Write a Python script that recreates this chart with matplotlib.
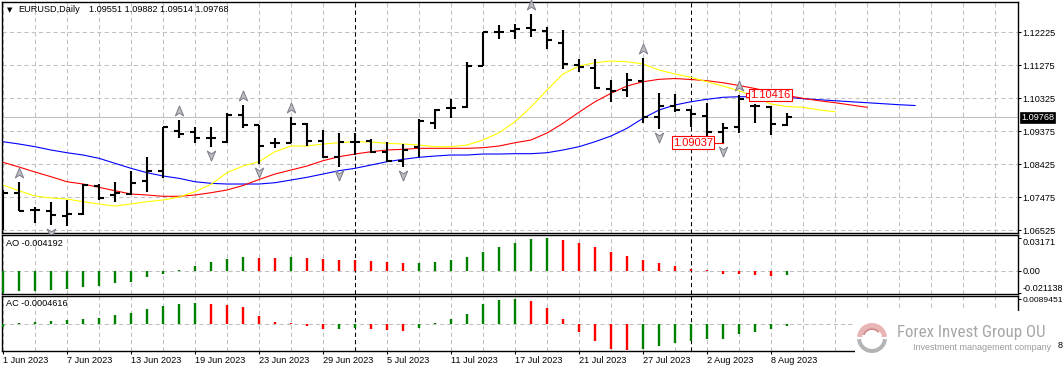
import numpy as np
import matplotlib
matplotlib.use("Agg")
import matplotlib.pyplot as plt
from matplotlib.path import Path
from matplotlib.transforms import offset_copy
from matplotlib.patches import Rectangle, Wedge

plt.rcParams['font.family'] = ['Liberation Sans', 'DejaVu Sans']

# ---------------- data ----------------
symbol = "EURUSD,Daily"
opens = [1.07533, 1.07590, 1.07101, 1.07072, 1.06928, 1.06986, 1.07792, 1.07533, 1.07561, 1.07936,
         1.08224, 1.09375, 1.09346, 1.09174, 1.09058, 1.09836, 1.09548, 1.09030, 1.09030, 1.09577,
         1.09087, 1.08627, 1.09058, 1.09087, 1.08770, 1.08511, 1.08914, 1.09605, 1.10037, 1.10066,
         1.11246, 1.12225, 1.12254, 1.12340, 1.12254, 1.11908, 1.11275, 1.11189, 1.10584, 1.10555,
         1.10814, 1.09778, 1.10095, 1.09980, 1.09807, 1.09346, 1.09490, 1.10095, 1.10066, 1.09551]
highs = [1.07677, 1.07907, 1.07187, 1.07331, 1.07389, 1.07849, 1.07849, 1.07907, 1.08224, 1.08627,
         1.09500, 1.09692, 1.09490, 1.09490, 1.09893, 1.10124, 1.09548, 1.09174, 1.09778, 1.09600,
         1.09404, 1.09317, 1.09317, 1.09145, 1.09058, 1.09001, 1.09720, 1.10008, 1.10296, 1.11361,
         1.12225, 1.12427, 1.12455, 1.12743, 1.12369, 1.12283, 1.11448, 1.11448, 1.10843, 1.11045,
         1.11477, 1.10469, 1.10440, 1.10008, 1.10181, 1.09605, 1.10416, 1.10152, 1.10095, 1.09882]
lows = [1.06525, 1.07072, 1.06727, 1.06669, 1.06640, 1.06960, 1.07389, 1.07331, 1.07533, 1.07619,
        1.08022, 1.09174, 1.09030, 1.08914, 1.09030, 1.09461, 1.08425, 1.08886, 1.09030, 1.08943,
        1.08598, 1.08339, 1.08684, 1.08742, 1.08483, 1.08339, 1.08627, 1.09433, 1.09749, 1.10037,
        1.11246, 1.12024, 1.12024, 1.12081, 1.11736, 1.11160, 1.11073, 1.10584, 1.10210, 1.10354,
        1.09605, 1.09433, 1.09922, 1.09490, 1.09202, 1.09037, 1.09317, 1.09605, 1.09260, 1.09514]
closes = [1.07590, 1.07072, 1.07101, 1.06957, 1.06986, 1.07820, 1.07446, 1.07590, 1.07878, 1.08224,
          1.09490, 1.09289, 1.09174, 1.09174, 1.09836, 1.09548, 1.08943, 1.09030, 1.09577, 1.09087,
          1.08627, 1.09058, 1.09058, 1.08770, 1.08511, 1.08828, 1.09663, 1.09980, 1.10037, 1.11246,
          1.12225, 1.12225, 1.12311, 1.12283, 1.11995, 1.11304, 1.11217, 1.10613, 1.10527, 1.10843,
          1.09778, 1.10095, 1.09980, 1.09864, 1.09346, 1.09461, 1.10296, 1.10095, 1.09577, 1.09768]

# Alligator-style lines (extend past last bar)
lips_yellow = [1.07820, 1.07656, 1.07504, 1.07446, 1.07417, 1.07340, 1.07274, 1.07216, 1.07274, 1.07340,
               1.07389, 1.07475, 1.07628, 1.07841, 1.08175, 1.08367, 1.08491, 1.08779, 1.08943, 1.08943,
               1.09001, 1.09038, 1.09067, 1.09058, 1.09021, 1.09001, 1.08972, 1.08923, 1.08923, 1.08972,
               1.09116, 1.09326, 1.09643, 1.10066, 1.10555, 1.11016, 1.11246, 1.11341, 1.11390, 1.11370,
               1.11304, 1.11131, 1.11016, 1.10921, 1.10794, 1.10670, 1.10535, 1.10362, 1.10152, 1.10080,
               1.10057, 1.09980, 1.09931]
teeth_red = [1.08474, 1.08339, 1.08195, 1.08059, 1.07915, 1.07849, 1.07754, 1.07656, 1.07561, 1.07533,
             1.07495, 1.07495, 1.07533, 1.07599, 1.07677, 1.07806, 1.07979, 1.08137, 1.08252, 1.08367,
             1.08520, 1.08635, 1.08713, 1.08779, 1.08828, 1.08848, 1.08877, 1.08877, 1.08877, 1.08877,
             1.08894, 1.08943, 1.09038, 1.09116, 1.09317, 1.09597, 1.09916, 1.10218, 1.10460, 1.10670,
             1.10794, 1.10863, 1.10886, 1.10858, 1.10823, 1.10765, 1.10685, 1.10598, 1.10498, 1.10397,
             1.10316, 1.10247, 1.10190, 1.10124, 1.10057]
jaw_blue = [1.09067, 1.09001, 1.08923, 1.08828, 1.08750, 1.08684, 1.08589, 1.08445, 1.08301, 1.08175,
            1.08080, 1.08013, 1.07915, 1.07869, 1.07849, 1.07849, 1.07849, 1.07887, 1.07964, 1.08042,
            1.08137, 1.08232, 1.08301, 1.08396, 1.08491, 1.08560, 1.08618, 1.08655, 1.08684, 1.08684,
            1.08713, 1.08713, 1.08722, 1.08722, 1.08750, 1.08828, 1.08923, 1.09067, 1.09231, 1.09453,
            1.09741, 1.09980, 1.10124, 1.10218, 1.10288, 1.10345, 1.10362, 1.10362, 1.10362, 1.10345,
            1.10305, 1.10276, 1.10247, 1.10218, 1.10190, 1.10161, 1.10132, 1.10109]

fractal_up_idx = [1, 11, 15, 18, 33, 40, 46]
fractal_down_idx = [3, 13, 16, 21, 25, 41, 45]
high_label_idx = 46
low_label_idx = 45

ao = [-0.021138, -0.01930, -0.01910, -0.01800, -0.01700, -0.01600, -0.01430, -0.01210, -0.01050, -0.00620,
      -0.00330, 0.00130, 0.00520, 0.00820, 0.01110, 0.01310, 0.01290, 0.01210, 0.01300, 0.01260,
      0.01120, 0.01100, 0.01050, 0.00916, 0.00818, 0.00719, 0.00730, 0.00818, 0.01014, 0.01308,
      0.01799, 0.02289, 0.02681, 0.03074, 0.03171, 0.02976, 0.02681, 0.02289, 0.01799, 0.01406,
      0.01014, 0.00719, 0.00425, 0.00229, 0.00065, -0.00294, -0.00330, -0.00425, -0.00460, -0.004192]
ac = [-0.00086, 0.00037, 0.00086, 0.00123, 0.00159, 0.00196, 0.00233, 0.00343, 0.00417, 0.00527,
      0.00637, 0.00711, 0.00747, 0.00705, 0.00674, 0.00600, 0.00306, 0.00086, 0.00037, -0.00049,
      -0.00172, -0.00160, -0.00147, -0.00172, -0.00208, -0.00245, -0.00135, 0.00037, 0.00196, 0.00380,
      0.00711, 0.00880, 0.0089451, 0.00821, 0.00564, 0.00196, -0.00270, -0.00600, -0.00858, -0.00894,
      -0.00858, -0.00784, -0.00674, -0.00576, -0.00527, -0.00520, -0.00343, -0.00270, -0.00159, -0.0004616]

date_idx = [0, 4, 8, 12, 16, 20, 24, 28, 32, 36, 40, 44, 48]
date_labels = ["1 Jun 2023", "7 Jun 2023", "13 Jun 2023", "19 Jun 2023", "23 Jun 2023", "29 Jun 2023",
               "5 Jul 2023", "11 Jul 2023", "17 Jul 2023", "21 Jul 2023", "27 Jul 2023", "2 Aug 2023",
               "8 Aug 2023"]
month_sep_idx = [22, 43]
price_ticks = [1.06525, 1.07475, 1.08425, 1.09375, 1.10325, 1.11275, 1.12225]
ao_ticks = [0.03171, 0.0, -0.021138]
ao_tick_labels = ["0.03171", "0.00", "-0.021138"]
ac_ticks = [0.0089451]
ac_tick_labels = ["0.0089451"]

# ---------------- figure ----------------
W, H = 1064, 372
fig = plt.figure(figsize=(W / 100, H / 100), dpi=100)
fig.patch.set_facecolor("white")


def pax(x0, y0, x1, y1):
    return fig.add_axes([x0 / W, 1 - y1 / H, (x1 - x0) / W, (y1 - y0) / H])


GRID = dict(color="#C0C0C0", lw=0.75, ls=(0, (4, 3)), zorder=0.5)
FS = 6.6


def style(ax):
    ax.set_xlim(-0.0625, 63.4375)
    for s in ax.spines.values():
        s.set_color("black")
        s.set_linewidth(1.0)
    ax.yaxis.tick_right()
    ax.tick_params(axis="y", length=2.2, width=0.75, pad=1.2, labelsize=FS, colors="black")
    ax.set_xticks([])
    for i in range(0, 64, 2):
        ax.axvline(i, **GRID)
    for i in month_sep_idx:
        ax.axvline(i, color="black", lw=0.75, ls=(0, (4, 3)), zorder=0.6)


idx = np.arange(len(opens))
O = np.array(opens); Hh = np.array(highs); L = np.array(lows); C = np.array(closes)

# ---- main price panel ----
ax = pax(2, 2, 1018, 233)
style(ax)
ax.set_ylim(1.06439, 1.13089)
ax.set_yticks(price_ticks)
ax.set_yticklabels([f"{p:.5f}" for p in price_ticks])
for p in price_ticks:
    ax.axhline(p, **GRID)
ax.axhline(C[-1], color="#C0C0C0", lw=0.75, zorder=0.7)

ax.plot(np.arange(len(jaw_blue)), jaw_blue, color="#0000FF", lw=0.8, zorder=2)
ax.plot(np.arange(len(teeth_red)), teeth_red, color="#FF0000", lw=0.8, zorder=2.1)
ax.plot(np.arange(len(lips_yellow)), lips_yellow, color="#FFFF00", lw=0.8, zorder=2.2)

ax.vlines(idx, L, Hh, color="black", lw=1.5, capstyle="butt", zorder=3)
ax.hlines(O, idx - 0.32, idx, color="black", lw=1.5, capstyle="butt", zorder=3)
ax.hlines(C, idx, idx + 0.32, color="black", lw=1.5, capstyle="butt", zorder=3)

up_path = Path([(0, 1), (0.75, -0.8), (0, -0.3), (-0.75, -0.8), (0, 1)],
               [Path.MOVETO, Path.LINETO, Path.LINETO, Path.LINETO, Path.CLOSEPOLY])
down_path = Path([(0, -1), (0.75, 0.8), (0, 0.3), (-0.75, 0.8), (0, -1)],
                 [Path.MOVETO, Path.LINETO, Path.LINETO, Path.LINETO, Path.CLOSEPOLY])
tr_up = offset_copy(ax.transData, fig=fig, x=0, y=9, units="dots")
tr_dn = offset_copy(ax.transData, fig=fig, x=0, y=-8, units="dots")
ax.plot(fractal_up_idx, Hh[fractal_up_idx], ls="none", marker=up_path, ms=8,
        mfc="#BDBDBD", mec="#7C7C8C", mew=0.7, transform=tr_up, zorder=4, clip_on=False)
ax.plot(fractal_down_idx, L[fractal_down_idx], ls="none", marker=down_path, ms=8,
        mfc="#BDBDBD", mec="#7C7C8C", mew=0.7, transform=tr_dn, zorder=4, clip_on=False)

# high / low labels
hi_i = high_label_idx
ax.plot([hi_i + 0.55], [Hh[hi_i]], marker="s", ms=2.6, mfc="white", mec="#FF0000", mew=0.8, zorder=5)
ax.text(hi_i + 0.72, Hh[hi_i], f"{Hh[hi_i]:.5f}", color="#FF0000", fontsize=8, va="center", ha="left",
        zorder=6, bbox=dict(boxstyle="square,pad=0.12", fc="white", ec="#FF0000", lw=0.8))
lo_i = low_label_idx
ax.plot([lo_i - 0.6, lo_i], [L[lo_i], L[lo_i]], color="#FF0000", lw=0.8, zorder=5)
ax.text(lo_i - 0.62, L[lo_i], f"{L[lo_i]:.5f}", color="#FF0000", fontsize=8, va="center", ha="right",
        zorder=6, bbox=dict(boxstyle="square,pad=0.12", fc="white", ec="#FF0000", lw=0.8))

# current price box on the axis
ax.annotate(f"{C[-1]:.5f}", xy=(1, C[-1]), xycoords=("axes fraction", "data"),
            xytext=(3, 0), textcoords="offset pixels", va="center", ha="left",
            fontsize=FS, color="white", annotation_clip=False, zorder=7,
            bbox=dict(boxstyle="square,pad=0.12", fc="black", ec="black", lw=0.5))

# ---- AO panel ----
green, red = "#008000", "#FF0000"


def bar_colors(vals):
    cols = [green]
    for k in range(1, len(vals)):
        cols.append(green if vals[k] >= vals[k - 1] else red)
    return cols


ax2 = pax(2, 235, 1018, 294)
style(ax2)
ax2.set_ylim(-0.0223, 0.03466)
ax2.axhline(0, **GRID)
ax2.vlines(np.arange(len(ao)), 0, ao, colors=bar_colors(ao), lw=1.7, capstyle="butt", zorder=3)
ax2.set_yticks(ao_ticks)
ax2.set_yticklabels(ao_tick_labels)
tl = ax2.get_yticklabels()
tl[0].set_va("top")
tl[2].set_va("bottom")

# ---- AC panel ----
ax3 = pax(2, 296, 1018, 351)
style(ax3)
ax3.set_ylim(-0.00946, 0.01005)
ax3.axhline(0, **GRID)
ax3.vlines(np.arange(len(ac)), 0, ac, colors=bar_colors(ac), lw=1.7, capstyle="butt", zorder=3)
ax3.set_yticks(ac_ticks)
ax3.set_yticklabels(ac_tick_labels)
ax3.tick_params(axis="y", labelsize=6.1)
ax3.set_xticks(date_idx)
ax3.set_xticklabels(date_labels, ha="left")
ax3.tick_params(axis="x", length=2.2, width=0.75, pad=1.5, labelsize=FS, colors="black")

# ---- overlay in pixel coordinates ----
ov = fig.add_axes([0, 0, 1, 1], zorder=10)
ov.set_xlim(0, W)
ov.set_ylim(H, 0)
ov.axis("off")
ov.patch.set_alpha(0)

ov.text(7, 10, "\u25BC", fontsize=5, va="center", ha="left", color="black",
        family=["DejaVu Sans"])
ov.text(18, 10, symbol, fontsize=FS, va="center", ha="left", color="black")
ov.text(89, 10, f"{O[-1]:.5f} {Hh[-1]:.5f} {L[-1]:.5f} {C[-1]:.5f}", fontsize=FS,
        va="center", ha="left", color="black")
ov.text(6, 243, f"AO {ao[-1]:.6f}", fontsize=FS, va="center", ha="left", color="black")
ov.text(6, 304, f"AC {ac[-1]:.7f}", fontsize=FS, va="center", ha="left", color="black")

# logo watermark
ov.add_patch(Rectangle((855, 311), 209, 61, fc="white", ec="none"))
ov.add_patch(Wedge((872, 338), 15, 185, 355, width=5, fc="#E8B4B4", ec="none"))
ov.add_patch(Wedge((872, 338), 15, 5, 175, width=4, fc="#B4B4B4", ec="none"))
ov.add_patch(Wedge((872, 338), 10, 200, 320, width=2, fc="#D08C8C", ec="none"))
ov.text(897, 333, "Forex Invest Group OU", fontsize=12.2, va="center", ha="left", color="#A6A6A6",
        family=["DejaVu Sans Condensed", "Liberation Sans Narrow", "Roboto Condensed", "Roboto"])
ov.text(913, 348, "Investment management company", fontsize=6.5, va="center", ha="left",
        color="#9A9A9A")
ov.text(1058, 345, "8", fontsize=FS, va="center", ha="left", color="black")

fig.savefig("out.png", dpi=100)
